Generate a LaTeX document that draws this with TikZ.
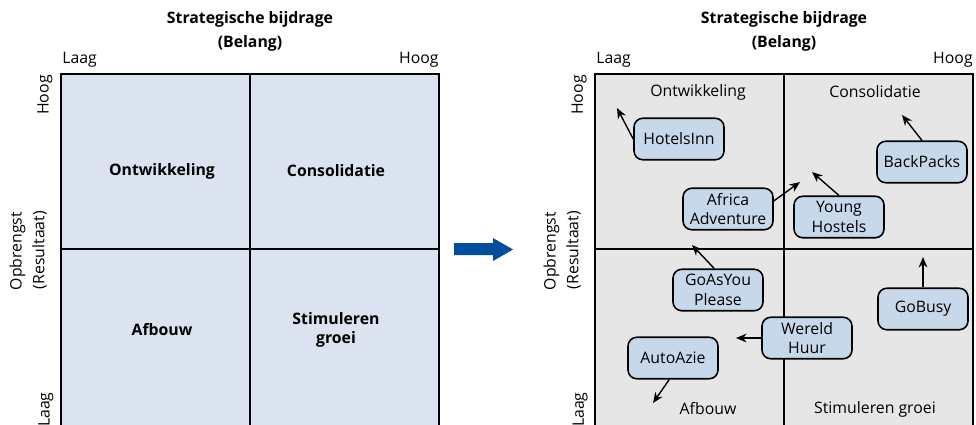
\documentclass[tikz,border=0pt]{standalone}
\usepackage{fontspec}
\setmainfont{Open Sans}
\usetikzlibrary{arrows.meta}
\definecolor{gridblue}{HTML}{DAE3EF}
\definecolor{gridgrey}{HTML}{E6E6E6}
\definecolor{firmblue}{HTML}{C8D8EB}
\definecolor{shiftblue}{HTML}{004F9E}

\begin{document}
\begin{tikzpicture}[x=0.02cm, y=-0.02cm,
  every node/.style={font=\fontsize{9}{11}\selectfont, align=center, inner sep=0pt},
  title/.style={font=\fontsize{9}{11}\selectfont\bfseries},
  vlabel/.style={rotate=90},
  quadline/.style={line width=1.1pt},
  firm/.style={draw, fill=firmblue, rounded corners=5pt, line width=0.9pt,
               minimum width=1.8cm, minimum height=0.83cm},
  move/.style={-{Stealth[length=6pt,width=5pt]}, line width=0.8pt},
]
\useasboundingbox (0,0) rectangle (976,424);

% the two portfolio matrices and their axes
\foreach \dx/\bg in {0/gridblue, 534/gridgrey} {
  \filldraw[fill=\bg, quadline] (61+\dx,74) rectangle (439+\dx,428);
  \draw[quadline] (250+\dx,74) -- (250+\dx,428) (61+\dx,249) -- (439+\dx,249);
  \node[title] (strat-\dx) at (250+\dx,19) {Strategische bijdrage};
  \node[title] (belang-\dx) at (250+\dx,43) {(Belang)};
  \node[anchor=west] (xlow-\dx) at (62+\dx,60) {Laag};
  \node[anchor=east] (xhigh-\dx) at (439+\dx,60) {Hoog};
  \node[vlabel] (yhigh-\dx) at (45+\dx,95) {Hoog};
  \node[vlabel] (opbr-\dx) at (17.5+\dx,251) {Opbrengst};
  \node[vlabel] (result-\dx) at (39.5+\dx,250) {(Resultaat)};
  \node[vlabel, anchor=east] (ylow-\dx) at (46+\dx,392) {Laag};
}

% quadrant names, before
\node[title] (ontw) at (162,171) {Ontwikkeling};
\node[title] (cons) at (336,171) {Consolidatie};
\node[title] (afb) at (162,330) {Afbouw};
\node[title] (stim) at (336,330) {Stimuleren\\groei};

% the shift
\fill[shiftblue] (454,243) -- (493,243) -- (493,238) -- (513,249.5)
  -- (493,261) -- (493,255) -- (454,255) -- cycle;

% quadrant names, after
\node (ontw2) at (698,92) {Ontwikkeling};
\node (cons2) at (875,92) {Consolidatie};
\node (afb2) at (708,409) {Afbouw};
\node (stim2) at (875,409) {Stimuleren groei};

% business units
\node[firm] (hotels) at (679,139) {HotelsInn};
\node[firm] (backpacks) at (922,162) {BackPacks};
\node[firm] (africa) at (728,209) {Africa\\Adventure};
\node[firm] (young) at (839,217) {Young\\Hostels};
\node[firm] (goasyou) at (718,290) {GoAsYou\\Please};
\node[firm] (gobusy) at (923,309) {GoBusy};
\node[firm] (wereld) at (807,338) {Wereld\\Huur};
\node[firm] (autoazie) at (673,358) {AutoAzie};

% where they are heading
\coordinate (hotels-to) at (617,108);
\coordinate (backpacks-to) at (902,115);
\coordinate (africa-to) at (800,182);
\coordinate (young-to) at (812,172);
\coordinate (goasyou-to) at (692,245);
\coordinate (gobusy-to) at (923,257);
\coordinate (wereld-to) at (736,338);
\coordinate (autoazie-to) at (653,403);

\draw[move] (hotels.west) -- (hotels-to);
\draw[move] (backpacks.north) -- (backpacks-to);
\draw[move] (africa.10) -- (africa-to);
\draw[move] (young.north) -- (young-to);
\draw[move] (goasyou.100) -- (goasyou-to);
\draw[move] (gobusy.north) -- (gobusy-to);
\draw[move] (wereld.west) -- (wereld-to);
\draw[move] (autoazie.260) -- (autoazie-to);
\end{tikzpicture}
\end{document}
